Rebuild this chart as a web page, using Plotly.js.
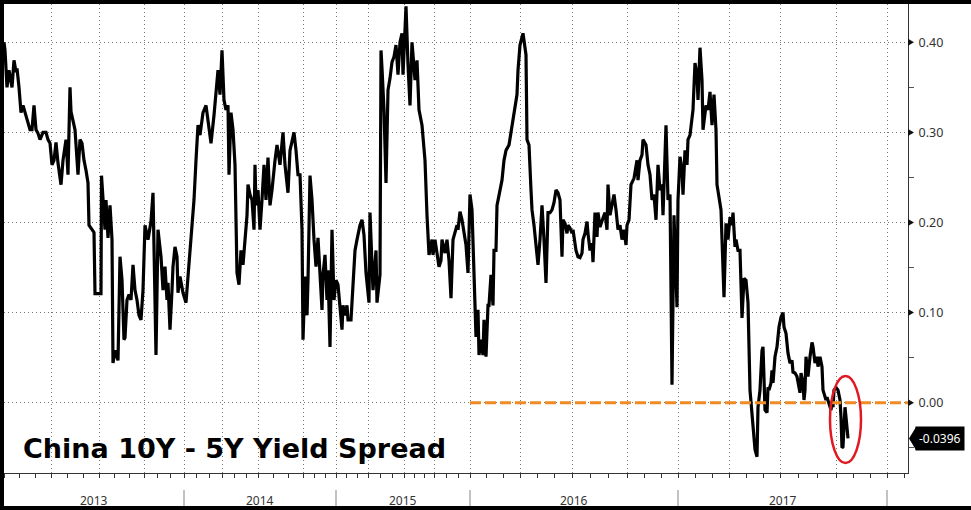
<!DOCTYPE html>
<html><head><meta charset="utf-8">
<script src="https://cdn.plot.ly/plotly-3.0.1.min.js"></script>
<style>
html,body{margin:0;padding:0;background:#fff;}
#wrap{position:relative;width:971px;height:510px;overflow:hidden;}
#chart{width:971px;height:510px;}
#frame{position:absolute;left:0;top:0;width:971px;height:510px;box-sizing:border-box;border-left:4px solid #000;border-top:4px solid #000;border-bottom:4px solid #000;pointer-events:none;}
</style></head><body>
<div id="wrap"><div id="chart"></div><div id="frame"></div></div>
<script>
// session index along the chart's (trading-day) axis
const session = [0,1,3,5,8,10,12,13,15,17,19,21,24,26,28,30,32,34,36,39,42,44,46,48,50,52,54,57,59,62,64,66,67,69,71,74,76,78,80,82,84,85,88,90,91,97,97.5,99,101,102,104,106,108,109,111,114,116,118,120,121,123,125,127,129,131,133,135,137,139,141,144,147,149,152,154,157,159,161,163,164,166,168,169,171,173,174,176,179,182,184,187,190,192,194,196,199,202,205,207,210,212,214,216,218,220,222,224,225,227,229,231,232,233,235,237,239,241,243,244,246,248,250,251,252,254,256,258,260,262,264,266,268,271,273,276,279,281,284,286,288,290,292,294,296,298,299,301,303,304,306,308,310,312,314,316,318,319,321,323,324,326,328,330,332,334,336,338,339,341,343,344,347,349,351,353,356,358,360,362,365,366,368,369,372,373,376,377,378,380,382,384,386,388,390,392,394,396,398,399,401,402,404,406,408,409,411,413,415,418,419,421,423,425,428,429,431,433,435,437,438,441,443,445,447,449,451,453,454,456,458,459,462,464,466,468,470,472,474,475,477,479,480,482,484,485,487,489,490,492,493,496,498,500,502,505,508,509,511,513,514,516,519,520,522,523,525,527,528,530,532,534,536,538,540,542,544,546,548,550,552,554,556,558,559,561,563,564,566,568,569,571,572,574,576,578,579,581,583,584,586,588,589,591,593,594,596,599,601,603,604,606,608,610,612,614,616,618,620,622,623,625,627,629,630,633,634,636,638,639,642,644,646,648,650,652,654,656,658,659,662,664,666,668,670,673,674,676,678,679,681,683,684,686,689,691,693,694,696,698,699,702,704,706,708,710,712,713,715,717,720,721,722,724,726,728,729,731,732,734,736,738,740,742,743,744,746,749,751,753,754,756,758,759,760,761,763,764,765,767,768,769,771,773,775,777,779,780,782,783,784,786,788,789,791,793,794,796,797,799,800,801,802,803,804,806,808,809,810,811,813,814,816,818,819,822,823,825,827,828,829,830,832,834,836,837,838,839,840,841,842,844];
// China 10Y - 5Y yield spread (percentage points)
const spread = [0.400,0.391,0.350,0.369,0.350,0.380,0.367,0.371,0.350,0.322,0.330,0.322,0.310,0.303,0.303,0.330,0.303,0.299,0.292,0.300,0.300,0.292,0.288,0.264,0.269,0.289,0.266,0.242,0.269,0.292,0.253,0.350,0.323,0.314,0.303,0.253,0.292,0.288,0.269,0.258,0.244,0.197,0.192,0.189,0.121,0.121,0.252,0.231,0.192,0.225,0.183,0.219,0.181,0.044,0.058,0.047,0.162,0.136,0.070,0.072,0.114,0.120,0.114,0.153,0.125,0.114,0.097,0.092,0.125,0.197,0.181,0.201,0.233,0.053,0.192,0.162,0.125,0.151,0.114,0.133,0.081,0.125,0.151,0.173,0.162,0.122,0.140,0.122,0.111,0.140,0.181,0.225,0.269,0.308,0.297,0.322,0.330,0.303,0.288,0.319,0.349,0.369,0.342,0.391,0.336,0.325,0.330,0.253,0.322,0.303,0.264,0.181,0.144,0.131,0.169,0.153,0.181,0.208,0.242,0.231,0.225,0.192,0.264,0.219,0.236,0.192,0.225,0.264,0.225,0.272,0.219,0.236,0.269,0.286,0.264,0.300,0.264,0.233,0.280,0.292,0.300,0.280,0.253,0.253,0.192,0.070,0.140,0.097,0.136,0.252,0.225,0.181,0.151,0.183,0.147,0.103,0.142,0.164,0.114,0.147,0.062,0.192,0.114,0.136,0.131,0.108,0.081,0.108,0.097,0.108,0.092,0.092,0.131,0.169,0.181,0.197,0.203,0.186,0.144,0.111,0.211,0.158,0.125,0.169,0.111,0.142,0.391,0.371,0.325,0.244,0.347,0.360,0.378,0.384,0.397,0.364,0.400,0.410,0.364,0.414,0.440,0.375,0.330,0.400,0.386,0.358,0.380,0.325,0.308,0.292,0.269,0.208,0.164,0.181,0.164,0.181,0.164,0.151,0.158,0.181,0.166,0.181,0.158,0.116,0.181,0.189,0.197,0.192,0.212,0.203,0.197,0.175,0.144,0.231,0.214,0.131,0.073,0.103,0.053,0.070,0.053,0.092,0.051,0.108,0.108,0.142,0.108,0.169,0.169,0.219,0.236,0.247,0.269,0.280,0.286,0.308,0.314,0.325,0.342,0.369,0.397,0.410,0.400,0.386,0.292,0.286,0.236,0.214,0.197,0.173,0.153,0.181,0.219,0.181,0.133,0.211,0.211,0.214,0.222,0.236,0.233,0.225,0.162,0.203,0.199,0.188,0.197,0.194,0.188,0.192,0.177,0.169,0.162,0.161,0.166,0.181,0.188,0.201,0.188,0.169,0.177,0.156,0.211,0.184,0.211,0.195,0.205,0.211,0.192,0.242,0.208,0.219,0.231,0.214,0.192,0.197,0.181,0.192,0.175,0.197,0.203,0.242,0.247,0.249,0.269,0.247,0.269,0.275,0.292,0.286,0.264,0.253,0.225,0.231,0.203,0.264,0.236,0.242,0.208,0.308,0.225,0.231,0.020,0.208,0.106,0.225,0.273,0.258,0.231,0.280,0.264,0.292,0.297,0.325,0.377,0.364,0.336,0.394,0.358,0.303,0.330,0.325,0.345,0.308,0.342,0.303,0.242,0.225,0.214,0.117,0.177,0.199,0.181,0.206,0.197,0.211,0.173,0.181,0.169,0.169,0.094,0.138,0.136,0.125,0.111,0.014,-0.023,-0.052,-0.060,-0.005,0.014,0.058,0.062,0.014,-0.008,-0.011,0.017,0.014,0.022,0.036,0.022,0.051,0.062,0.084,0.095,0.100,0.084,0.077,0.062,0.055,0.044,0.047,0.034,0.033,0.029,0.022,0.011,0.033,0.022,0.003,0.014,0.051,0.036,0.029,0.051,0.067,0.062,0.055,0.044,0.051,0.040,0.051,0.040,0.014,0.003,0.006,0.000,-0.008,0.000,-0.005,0.014,0.017,0.014,0.003,-0.016,-0.050,-0.049,-0.023,-0.005,-0.016,-0.0396];
// calendar quarter starts on the session axis (2013Q1 ... 2018Q1)
const quarterStarts = [0,47,95,140,180,218,254,299,332,364,400,430,466,516,568,623,674,725,776,832,883];
const yearStarts = [0,180,332,466,674,883];
const yearLabels = ['2013','2014','2015','2016','2017'];
const axisEnd = 904;
// zero reference line drawn from the start of 2016
const refLineX = [466, 904];
const refLineY = [0, 0];
const yTicks = [0, 0.1, 0.2, 0.3, 0.4];
const yMinorTicks = [-0.05, 0.05, 0.15, 0.25, 0.35];
const highlightX = [826, 857];
const highlightY = [-0.067, 0.0296];

const lastValue = spread[spread.length - 1];

// monthly ticks: thirds of every quarter
const monthTicks = [];
for (let i = 0; i < quarterStarts.length; i++) {
  const a = quarterStarts[i];
  const b = i + 1 < quarterStarts.length ? quarterStarts[i + 1] : a + (a - quarterStarts[i - 1]);
  monthTicks.push(a + (b - a) / 3, a + 2 * (b - a) / 3);
}

const traces = [
  {x: session, y: spread, type: 'scatter', mode: 'lines',
   line: {color: '#000000', width: 3.2, shape: 'linear'}, hoverinfo: 'skip'},
  {x: refLineX, y: refLineY, type: 'scatter', mode: 'lines',
   line: {color: '#f08a24', width: 3, dash: '11px,4px'}, hoverinfo: 'skip'}
];

const shapes = [];
// year separators below the axis
yearStarts.slice(1).forEach(v => shapes.push({
  type: 'line', xref: 'x', yref: 'paper', x0: v, x1: v, y0: -0.036, y1: -0.071,
  line: {color: '#9a9a9a', width: 1.2}
}));
// triangle markers on the right axis
yTicks.forEach(v => shapes.push({
  type: 'path', xref: 'paper', yref: 'y', xsizemode: 'pixel', ysizemode: 'pixel',
  xanchor: 1, yanchor: v, path: 'M0,-3.5 L6,0 L0,3.5 Z',
  fillcolor: '#111', line: {width: 0}
}));
// last value tag pointer
shapes.push({
  type: 'path', xref: 'paper', yref: 'y', xsizemode: 'pixel', ysizemode: 'pixel',
  xanchor: 1, yanchor: lastValue, path: 'M1,0 L8,-11.5 L8,11.5 Z',
  fillcolor: '#000', line: {width: 0}
});
// red highlight ellipse
shapes.push({
  type: 'circle', xref: 'x', yref: 'y',
  x0: highlightX[0], x1: highlightX[1], y0: highlightY[0], y1: highlightY[1],
  line: {color: '#e01a22', width: 2.5}
});

const annotations = [];
yearLabels.forEach((t, i) => annotations.push({
  text: t, xref: 'x', yref: 'paper', x: (yearStarts[i] + yearStarts[i + 1]) / 2, y: 0,
  yshift: -27, yanchor: 'middle', xanchor: 'center', showarrow: false,
  font: {family: 'Noto Sans', size: 12, color: '#333'}
}));
annotations.push({
  text: '<b>China 10Y - 5Y Yield Spread</b>', xref: 'paper', yref: 'paper',
  x: 0.0188, y: 0.052, xanchor: 'left', yanchor: 'middle', showarrow: false,
  font: {family: 'DejaVu Sans', size: 27, color: '#000'}
});
annotations.push({
  text: lastValue.toFixed(4), xref: 'paper', yref: 'y', x: 1, y: lastValue,
  xanchor: 'left', yanchor: 'middle', xshift: 7, showarrow: false,
  bgcolor: '#000', borderpad: 3,
  font: {family: 'Noto Sans', size: 12, color: '#fff'}
});

const layout = {
  width: 971, height: 510,
  margin: {l: 4, r: 63, t: 4, b: 37, pad: 0},
  paper_bgcolor: '#ffffff', plot_bgcolor: '#ffffff',
  showlegend: false,
  xaxis: {
    range: [0, axisEnd], showline: true, linecolor: '#333', linewidth: 1,
    tickmode: 'array', tickvals: quarterStarts, ticks: 'outside', ticklen: 4,
    tickcolor: '#333', showticklabels: false,
    showgrid: true, gridcolor: '#777', gridwidth: 1, griddash: '1px,3px',
    zeroline: false, fixedrange: true,
    minor: {tickmode: 'array', tickvals: monthTicks, ticks: 'outside', ticklen: 4,
            tickcolor: '#333', showgrid: false}
  },
  yaxis: {
    side: 'right', range: [-0.078, 0.4425],
    tickmode: 'array', tickvals: yTicks, tickformat: '.2f',
    ticks: 'outside', ticklen: 7, tickcolor: 'rgba(0,0,0,0)',
    showline: true, linecolor: '#333', linewidth: 1,
    showgrid: true, gridcolor: '#777', gridwidth: 1, griddash: '1px,3px',
    zeroline: false, fixedrange: true,
    tickfont: {family: 'Noto Sans', size: 12.5, color: '#333'},
    minor: {tickmode: 'array', tickvals: yMinorTicks, ticks: 'outside', ticklen: 5,
            tickcolor: '#555', showgrid: false}
  },
  shapes: shapes,
  annotations: annotations
};

Plotly.newPlot('chart', traces, layout, {staticPlot: true, displayModeBar: false});
</script>
</body></html>
